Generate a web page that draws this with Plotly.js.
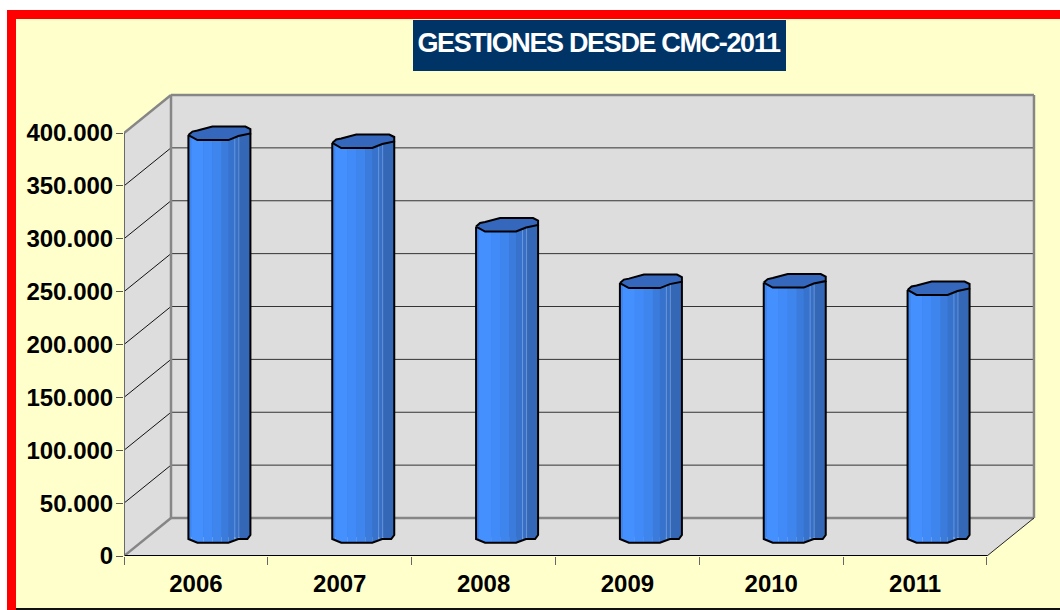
<!DOCTYPE html>
<html>
<head>
<meta charset="utf-8">
<script src="https://cdn.plot.ly/plotly-3.0.0.min.js"></script>
<style>
html,body{margin:0;padding:0;background:#fff;width:1060px;height:610px;overflow:hidden}
#frame{position:absolute;left:7px;top:10px;width:1053px;height:600px;box-sizing:border-box;border-left:9px solid #f00;border-top:9px solid #f00;background:#FFFFCC}
#rule{position:absolute;left:16px;top:608px;width:1044px;height:2px;background:#111}
#chart{position:absolute;left:16px;top:19px;width:1044px;height:589px}
.gtitle{letter-spacing:-1.35px}
</style>
</head>
<body>
<div id="frame"></div>
<div id="chart"></div>
<div id="rule"></div>
<script>
// ---- data ----
const years = ['2006','2007','2008','2009','2010','2011'];
const gestiones = [381500, 374000, 295000, 241500, 242000, 235000];
const yTickVals = [0,50000,100000,150000,200000,250000,300000,350000,400000];
const yTickText = ['0','50.000','100.000','150.000','200.000','250.000','300.000','350.000','400.000'];
const chartTitle = 'GESTIONES DESDE CMC-2011';

// ---- scale factors of the fake 3D box (screen px per data unit) ----
const L=124, R=1037, B=556, T=91;
const pxPerCat = 143.83, pxPerVal = 1.0575/1000;
const xU = p => p/pxPerCat, yU = p => p/pxPerVal;
const depthX = xU(47), depthY = yU(38);
const nCat = years.length, yMax = yTickVals[yTickVals.length-1];

// ---- bar outline, in px relative to the bar's centre ----
const capOutline = [[-31,-1.5],[-27,2],[-22,3],[-7,7],[26,7],[31,4.5],[31,0],[19,-2.5],[9,-6.5],[-22,-6.5]];
const capFront = [[-31,-1.5],[-22,-6.5],[9,-6.5],[19,-2.5],[31,0]];
const baseEdge = [[-31,-2],[-22,-5.7],[9,-5.7],[19,-2],[28,-2],[31,2]];
const strips = [
 [-31,-28,'#3D84EE'],[-28,-16,'#4490FF'],[-16,-7,'#418BF8'],[-7,2,'#3F85EE'],[2,9,'#3B7BDC'],
 [9,15,'#3772CC'],[15,16,'#6D9AD8'],[16,19,'#386FC4'],[19,20,'#6A94CF'],[20,31,'#3567B7']
];
const at = (prof,x)=>{for(let i=1;i<prof.length;i++){if(x<=prof[i][0]){const a=prof[i-1],b=prof[i];return a[1]+(b[1]-a[1])*(x-a[0])/(b[0]-a[0]);}}return prof[prof.length-1][1];};
const section = (prof,a,b)=>{const pts=[[a,at(prof,a)]];prof.forEach(p=>{if(p[0]>a&&p[0]<b)pts.push(p);});pts.push([b,at(prof,b)]);return pts;};

const barDepthY = yU(19);
const centerX = i => i+0.5+xU(23.5);
const topY = v => v+barDepthY;

const traces = [];
// real bars: body from the floor to each value
traces.push({type:'bar',x:years.map((_,i)=>centerX(i)),y:gestiones,base:barDepthY,width:xU(58),
  marker:{color:'#3C7EE0',line:{width:0}},hoverinfo:'skip',name:'Gestiones'});
// shaded vertical strips of each cylinder
strips.forEach(s=>{
  const xs=[],ys=[];
  gestiones.forEach((v,i)=>{
    section(capFront,s[0],s[1]).forEach(p=>{xs.push(centerX(i)+xU(p[0]));ys.push(topY(v)+yU(p[1]));});
    section(baseEdge,s[0],s[1]).reverse().forEach(p=>{xs.push(centerX(i)+xU(p[0]));ys.push(barDepthY+yU(p[1]));});
    xs.push(null);ys.push(null);
  });
  traces.push({type:'scatter',mode:'lines',x:xs,y:ys,fill:'toself',fillcolor:s[2],line:{width:0,color:s[2]},hoverinfo:'skip',showlegend:false});
});
// body outline
{
  const xs=[],ys=[];
  gestiones.forEach((v,i)=>{
    xs.push(centerX(i)+xU(capFront[0][0]));ys.push(topY(v)+yU(capFront[0][1]));
    baseEdge.forEach(p=>{xs.push(centerX(i)+xU(p[0]));ys.push(barDepthY+yU(p[1]));});
    xs.push(centerX(i)+xU(31));ys.push(topY(v));
    xs.push(null);ys.push(null);
  });
  traces.push({type:'scatter',mode:'lines',x:xs,y:ys,line:{color:'#000',width:2},hoverinfo:'skip',showlegend:false});
}
// caps
{
  const xs=[],ys=[];
  gestiones.forEach((v,i)=>{
    capOutline.concat([capOutline[0]]).forEach(p=>{xs.push(centerX(i)+xU(p[0]));ys.push(topY(v)+yU(p[1]));});
    xs.push(null);ys.push(null);
  });
  traces.push({type:'scatter',mode:'lines',x:xs,y:ys,fill:'toself',fillcolor:'#3568BC',line:{color:'#000',width:2},hoverinfo:'skip',showlegend:false});
}
// front axis lines
traces.push({type:'scatter',mode:'lines',x:[0,nCat],y:[0,0],line:{color:'#000',width:2},cliponaxis:false,hoverinfo:'skip',showlegend:false});
traces.push({type:'scatter',mode:'lines',x:[0,0],y:[0,yMax],line:{color:'#6a6a6a',width:2},cliponaxis:false,hoverinfo:'skip',showlegend:false});

// ---- box: walls, floor and grid ----
const shapes=[];
const seg=(x0,y0,x1,y1,color,width)=>shapes.push({type:'line',layer:'below',xref:'x',yref:'y',x0,y0,x1,y1,line:{color,width}});
shapes.push({type:'path',layer:'below',xref:'x',yref:'y',
  path:`M0,0 L0,${yMax} L${depthX},${yMax+depthY} L${nCat+depthX},${yMax+depthY} L${nCat+depthX},${depthY} L${nCat},0 Z`,
  fillcolor:'#DDDDDD',line:{width:0}});
yTickVals.forEach(v=>{
  if(v===0||v===yMax) return;
  seg(0,v,depthX,v+depthY,'#111',1);
  seg(depthX,v+depthY,nCat+depthX,v+depthY,'#333',1);
});
const G='#868686';
seg(0,0,depthX,depthY,G,2.5);
seg(depthX,depthY,nCat+depthX,depthY,G,2.5);
seg(0,yMax,depthX,yMax+depthY,G,2.5);
seg(depthX,yMax+depthY,nCat+depthX,yMax+depthY,G,2.5);
seg(depthX,depthY,depthX,yMax+depthY,G,2.5);
seg(nCat+depthX,depthY,nCat+depthX,yMax+depthY,G,2.5);
seg(nCat,0,nCat+depthX,depthY,'#222',1);
// title plate
const W=R-L,H=B-T;
shapes.push({type:'rect',layer:'above',xref:'paper',yref:'paper',
  x0:(413-L)/W,x1:(786-L)/W,y0:(B-71)/H,y1:(B-20)/H,fillcolor:'#003366',line:{width:0}});

const font='"Liberation Sans", Arial, sans-serif';
const layout={
  width:1044,height:589,
  margin:{l:L-16,r:1060-R,t:T-19,b:608-B,pad:0},
  paper_bgcolor:'#FFFFCC',plot_bgcolor:'rgba(0,0,0,0)',
  showlegend:false,hovermode:false,barmode:'overlay',
  title:{text:chartTitle,font:{family:font,size:27,color:'#fff',weight:700},
    xref:'container',yref:'container',x:(598.5-16)/1044,xanchor:'center',y:1-(43-19)/589,yanchor:'middle'},
  xaxis:{type:'linear',range:[0,W/pxPerCat],showgrid:false,zeroline:false,showline:false,
    tickmode:'array',tickvals:years.map((_,i)=>i+0.5),ticktext:years,ticks:'',ticklen:0,
    tickfont:{family:font,size:24,color:'#000',weight:700},
    minor:{tickmode:'array',tickvals:Array.from({length:nCat+1},(_,i)=>i),ticks:'outside',ticklen:8,tickwidth:1,tickcolor:'#666',showgrid:false},
    ticklabelstandoff:11},
  yaxis:{range:[0,H/pxPerVal],showgrid:false,zeroline:false,showline:false,
    tickmode:'array',tickvals:yTickVals,ticktext:yTickText,ticks:'outside',ticklen:7,tickwidth:1,tickcolor:'#555',
    tickfont:{family:font,size:24,color:'#000',weight:700},ticklabelstandoff:-2},
  shapes
};
Plotly.newPlot('chart',traces,layout,{displayModeBar:false,staticPlot:true});
</script>
</body>
</html>
